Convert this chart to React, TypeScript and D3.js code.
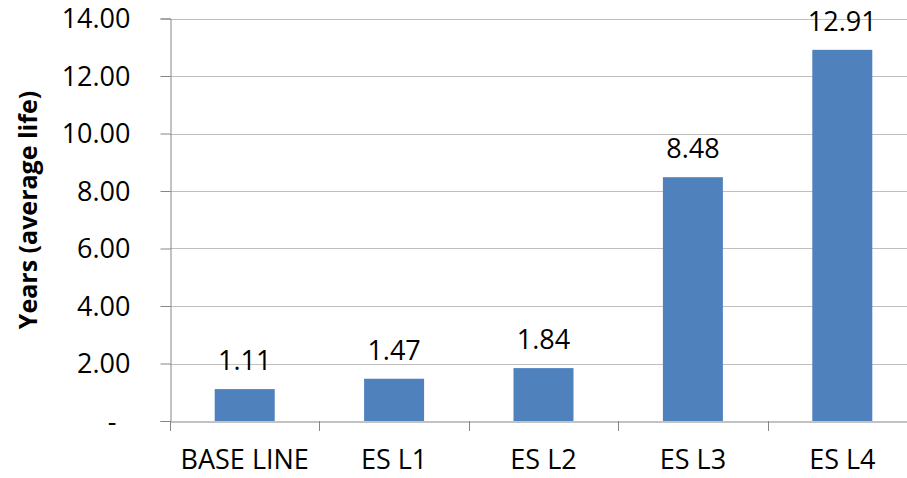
import React, { useEffect, useRef } from 'react';
import * as d3 from 'd3';

const categories = ['BASE LINE', 'ES L1', 'ES L2', 'ES L3', 'ES L4'];
const values = [1.11, 1.47, 1.84, 8.48, 12.91];
const yTicks = [0, 2, 4, 6, 8, 10, 12, 14];

const FONT = '"Open Sans", "Noto Sans", sans-serif';

const App: React.FC = () => {
  const ref = useRef<SVGSVGElement | null>(null);

  useEffect(() => {
    const width = 907;
    const height = 478;
    const margin = { top: 18.5, right: -10, bottom: 57, left: 170 };

    const svg = d3.select(ref.current).attr('width', width).attr('height', height);
    svg.selectAll('*').remove();

    const x = d3
      .scaleBand<string>()
      .domain(categories)
      .range([margin.left, width - margin.right])
      .paddingInner(0)
      .paddingOuter(0);

    const y = d3
      .scaleLinear()
      .domain([0, 14])
      .range([height - margin.bottom, margin.top]);

    // gridlines
    svg
      .append('g')
      .selectAll('line')
      .data(yTicks.filter((d) => d > 0))
      .enter()
      .append('line')
      .attr('x1', margin.left)
      .attr('x2', width - margin.right)
      .attr('y1', (d) => Math.round(y(d)) + 0.5)
      .attr('y2', (d) => Math.round(y(d)) + 0.5)
      .attr('stroke', '#bfbfbf')
      .attr('stroke-width', 1);

    // y axis
    const yAxis = svg
      .append('g')
      .attr('transform', `translate(${margin.left + 0.5},0)`)
      .call(
        d3
          .axisLeft(y)
          .tickValues(yTicks)
          .tickSize(10)
          .tickPadding(30)
          .tickFormat((d) => (+d === 0 ? '-' : d3.format('.2f')(+d)))
      );
    yAxis.select('.domain').attr('stroke', '#868686');
    yAxis.selectAll('.tick line').attr('stroke', '#868686');
    yAxis
      .selectAll('.tick text')
      .attr('font-family', FONT)
      .attr('font-size', 27)
      .attr('fill', '#000')
      .attr('dy', '0.34em')
      .filter((d: any) => +d === 0)
      .attr('dx', -14);

    // bars
    const barW = 60;
    svg
      .append('g')
      .selectAll('rect')
      .data(values)
      .enter()
      .append('rect')
      .attr('x', (_, i) => x(categories[i])! + x.bandwidth() / 2 - barW / 2)
      .attr('width', barW)
      .attr('y', (d) => y(d))
      .attr('height', (d) => y(0) - y(d))
      .attr('fill', '#4f81bd');

    // x axis
    const xAxis = svg
      .append('g')
      .attr('transform', `translate(0,${Math.round(y(0)) + 0.5})`)
      .call(d3.axisBottom(x).tickSize(0).tickPadding(28));
    xAxis.select('.domain').attr('stroke', '#868686');
    xAxis
      .selectAll('.tick text')
      .attr('font-family', FONT)
      .attr('font-size', 27)
      .attr('fill', '#000');

    // category boundary ticks
    const bounds = categories.map((c) => x(c)!).concat([x(categories[categories.length - 1])! + x.bandwidth()]);
    svg
      .append('g')
      .selectAll('line')
      .data(bounds)
      .enter()
      .append('line')
      .attr('x1', (d) => Math.round(d) + 0.5)
      .attr('x2', (d) => Math.round(d) + 0.5)
      .attr('y1', Math.round(y(0)))
      .attr('y2', Math.round(y(0)) + 10)
      .attr('stroke', '#868686');

    // value labels
    svg
      .append('g')
      .selectAll('text')
      .data(values)
      .enter()
      .append('text')
      .attr('x', (_, i) => x(categories[i])! + x.bandwidth() / 2)
      .attr('y', (d) => y(d) - 19)
      .attr('text-anchor', 'middle')
      .attr('font-family', FONT)
      .attr('font-size', 27)
      .attr('fill', '#000')
      .text((d) => d3.format('.2f')(d));

    // y title
    svg
      .append('text')
      .attr('transform', `translate(37,210) rotate(-90)`)
      .attr('text-anchor', 'middle')
      .attr('font-family', FONT)
      .attr('font-weight', 'bold')
      .attr('font-size', 25)
      .attr('fill', '#000')
      .text('Years (average life)');
  }, []);

  return <svg ref={ref} style={{ position: 'absolute', left: 0, top: 0 }} />;
};

export default App;
